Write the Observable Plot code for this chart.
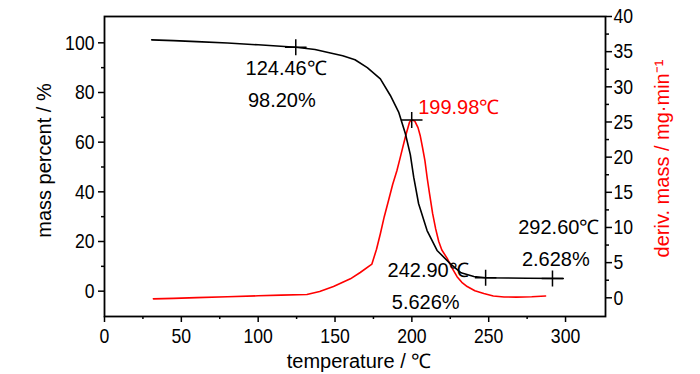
<!DOCTYPE html>
<html><head><meta charset="utf-8">
<script src="https://cdn.jsdelivr.net/npm/d3@7"></script>
<script src="https://cdn.jsdelivr.net/npm/@observablehq/plot@0.6"></script>
<style>body{margin:0;background:#fff} svg{display:block}</style>
</head><body><div id="chart"></div>
<script>
// TGA curve (mass percent, left axis)
const tgaTemp = [30.7, 45, 60, 80, 100, 124.5, 137, 147, 155, 163, 171, 179.5, 186, 191.4, 195.8, 199, 201.2, 204.4, 209.9, 216.4, 225.1, 232, 240.3, 248, 262, 275, 298.5];
const tgaMass = [101.2, 100.9, 100.5, 99.9, 99.2, 98.2, 97.3, 95.9, 94.8, 93.2, 90.0, 85.5, 78.8, 72.1, 63.4, 55, 45.9, 35.2, 24.4, 16.4, 11.0, 7.4, 5.9, 5.4, 5.3, 5.2, 5.1];
// DTG curve (deriv. mass, right axis)
const dtgTemp = [31.8, 45, 60, 80, 100, 115, 131.7, 140, 149, 160, 166.4, 174, 177, 179.5, 182, 184.9, 187.5, 190.3, 192.5, 195.8, 198.5, 200, 202, 204, 205.5, 207, 208.5, 210, 211.5, 213.5, 215.5, 217.5, 219.5, 223, 226, 229.4, 232.5, 236, 241, 246.8, 253, 260, 268, 278, 287];
const dtgDeriv = [-0.15, -0.08, 0.02, 0.15, 0.28, 0.38, 0.47, 0.9, 1.6, 2.7, 3.6, 4.8, 6.9, 9.1, 11.5, 13.9, 16.1, 18.1, 20, 22.9, 25, 25.3, 25.1, 24.2, 23, 21.3, 19.5, 17, 14.8, 12, 9.8, 8, 6.8, 5.6, 4.3, 3.0, 2.2, 1.6, 1.0, 0.6, 0.25, 0.12, 0.1, 0.15, 0.25];

// crosshair markers
const markTemp = [124.46, 248, 291.5];
const markMass = [98.2, 5.4, 5.1];
const peakTemp = [199.9];
const peakDeriv = [25.3];

// annotation labels (anchored in data coordinates)
const labelText = ["124.46℃", "98.20%", "242.90℃", "5.626%", "292.60℃", "2.628%"];
const labelTemp = [118.2, 115.4, 210.6, 209, 295.6, 293.7];
const labelMass = [89.7, 76.6, 8.3, -4.4, 25.8, 12.6];
const peakLabel = ["199.98℃"];
const peakLabelTemp = [204.1];
const peakLabelDeriv = [27.0];

// axes
const xTicks = [0, 50, 100, 150, 200, 250, 300];
const xMinor = [25, 75, 125, 175, 225, 275];
const yTicks = [0, 20, 40, 60, 80, 100];
const yMinor = [10, 30, 50, 70, 90];
const rTicks = [0, 5, 10, 15, 20, 25, 30, 35, 40];
const rMinor = [2.5, 7.5, 12.5, 17.5, 22.5, 27.5, 32.5, 37.5];
const xDomain = [0, 326];
const yDomain = [-10.2, 110.6];
const rDomain = [-2.66, 40];

const toLeft = d => yDomain[0] + (d - rDomain[0]) * (yDomain[1] - yDomain[0]) / (rDomain[1] - rDomain[0]);
const fromLeft = v => rDomain[0] + (v - yDomain[0]) * (rDomain[1] - rDomain[0]) / (yDomain[1] - yDomain[0]);

const tga = tgaTemp.map((t, i) => ({t, v: tgaMass[i]}));
const dtg = dtgTemp.map((t, i) => ({t, v: toLeft(dtgDeriv[i])}));
const marks = markTemp.map((t, i) => ({t, v: markMass[i]})).concat(peakTemp.map((t, i) => ({t, v: toLeft(peakDeriv[i])})));
const labels = labelText.map((s, i) => ({s, t: labelTemp[i], v: labelMass[i]}));
const plabels = peakLabel.map((s, i) => ({s, t: peakLabelTemp[i], v: toLeft(peakLabelDeriv[i])}));

const crossSymbol = {
  draw(ctx, size) {
    const r = Math.sqrt(size / Math.PI);
    ctx.moveTo(-r * 1.35, 0); ctx.lineTo(r * 1.35, 0);
    ctx.moveTo(0, -r); ctx.lineTo(0, r);
  }
};

const font = "'Liberation Sans',Arial,sans-serif";

const chart = Plot.plot({
  width: 700, height: 374,
  marginLeft: 104, marginRight: 95, marginTop: 16, marginBottom: 58,
  style: {fontFamily: font, fontSize: "20px", background: "#fff", color: "#000"},
  x: {domain: xDomain},
  y: {domain: yDomain},
  marks: [
    Plot.axisX(xTicks, {tickSize: 6, tickPadding: 6, label: null, strokeWidth: 1.5, fontSize: 21}),
    Plot.axisX(xMinor, {tickSize: 3, text: null, label: null, strokeWidth: 1.5}),
    Plot.axisY(yTicks, {tickSize: 6, tickPadding: 4, label: null, strokeWidth: 1.5, fontSize: 21}),
    Plot.axisY(yMinor, {tickSize: 3, text: null, label: null, strokeWidth: 1.5}),
    Plot.axisY(rTicks.map(toLeft), {anchor: "right", tickSize: 6, tickPadding: 2, label: null, strokeWidth: 1.5, fontSize: 21, tickFormat: v => String(Math.round(fromLeft(v)))}),
    Plot.axisY(rMinor.map(toLeft), {anchor: "right", tickSize: 3, text: null, label: null, strokeWidth: 1.5}),
    Plot.frame({stroke: "#000", strokeWidth: 1.8}),
    Plot.line(dtg, {x: "t", y: "v", stroke: "#ff0000", strokeWidth: 1.6}),
    Plot.line(tga, {x: "t", y: "v", stroke: "#000", strokeWidth: 1.6}),
    Plot.dot(marks, {x: "t", y: "v", r: 8, symbol: crossSymbol, stroke: "#000", fill: "none", strokeWidth: 1.5}),
    Plot.text(labels, {x: "t", y: "v", text: "s", fill: "#000"}),
    Plot.text(plabels, {x: "t", y: "v", text: "s", fill: "#ff0000", textAnchor: "start"}),
    Plot.text(["mass percent / %"], {frameAnchor: "left", textAnchor: "middle", lineAnchor: "middle", rotate: -90, dx: -60, dy: -6, fill: "#000"}),
    Plot.text(["temperature / ℃"], {frameAnchor: "bottom", textAnchor: "middle", lineAnchor: "middle", dy: 45, dx: 4, fill: "#000"}),
    Plot.text(["deriv. mass / mg·min⁻¹"], {frameAnchor: "right", textAnchor: "middle", lineAnchor: "middle", rotate: -90, dx: 57, dy: -8, fill: "#ff0000"})
  ]
});
document.getElementById("chart").appendChild(chart);
// tick labels in the reference are set in a tall, condensed face
d3.select(chart).selectAll('g[aria-label$="tick label"] text').each(function() {
  const w = this.getComputedTextLength();
  if (w > 0) d3.select(this).attr("textLength", (w * 0.84).toFixed(1)).attr("lengthAdjust", "spacingAndGlyphs");
});
</script>
</body></html>
